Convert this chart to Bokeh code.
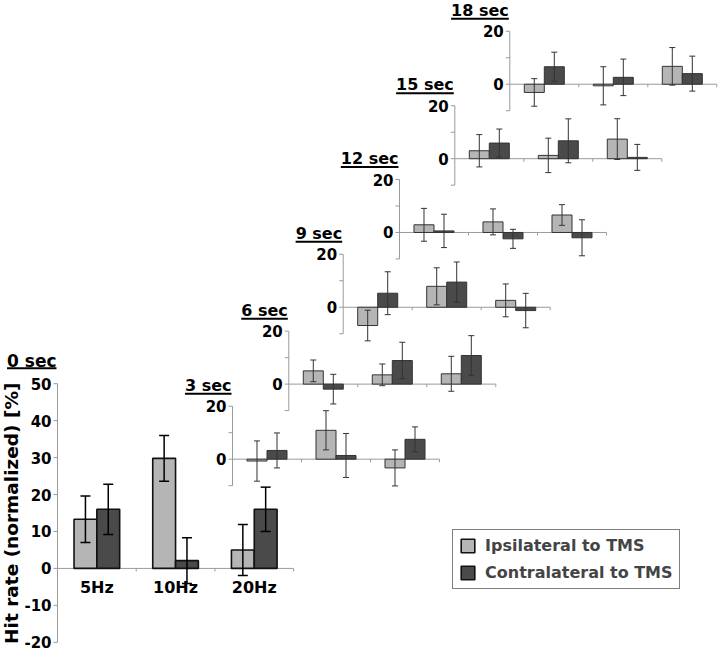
import math
from bokeh.plotting import figure
from bokeh.models import Range1d, Legend, LegendItem
from bokeh.core.properties import value
from bokeh.embed import file_html
from bokeh.resources import INLINE

# ---------------- data ----------------
categories = ["5Hz", "10Hz", "20Hz"]
series_names = ["Ipsilateral to TMS", "Contralateral to TMS"]
y_label = "Hit rate  (normalized) [%]"

main_title = "0 sec"
main_ticks = [50, 40, 30, 20, 10, 0, -10, -20]
main_tick_labels = ["50", "40", "30", "20", "10", "0", "-10", "-20"]
main_ipsi = [13.3, 29.8, 5.0]
main_ipsi_err = [6.3, 6.2, 6.9]
main_contra = [16.0, 2.1, 16.0]
main_contra_err = [6.8, 6.2, 6.0]

inset_titles = ["3 sec", "6 sec", "9 sec", "12 sec", "15 sec", "18 sec"]
inset_ticks = [20, 10, 0, -10]
inset_tick_labels = ["20", "", "0", ""]

ipsi_3s = [-0.7, 10.9, -3.3]
ipsi_3s_err = [7.6, 7.4, 6.8]
contra_3s = [3.3, 1.4, 7.5]
contra_3s_err = [6.6, 8.3, 4.7]

ipsi_6s = [5.0, 3.5, 3.9]
ipsi_6s_err = [4.1, 4.1, 6.6]
contra_6s = [-1.9, 8.9, 10.8]
contra_6s_err = [5.6, 6.9, 7.5]

ipsi_9s = [-6.9, 7.9, 2.6]
ipsi_9s_err = [5.8, 7.0, 6.2]
contra_9s = [5.3, 9.5, -1.25]
contra_9s_err = [8.1, 7.6, 6.5]

ipsi_12s = [2.9, 4.0, 6.6]
ipsi_12s_err = [6.2, 4.9, 3.9]
contra_12s = [0.6, -2.4, -2.0]
contra_12s_err = [6.3, 3.6, 6.8]

ipsi_15s = [3.0, 1.25, 7.4]
ipsi_15s_err = [6.1, 6.5, 7.7]
contra_15s = [5.9, 6.75, 0.5]
contra_15s_err = [5.3, 8.3, 4.9]

ipsi_18s = [-3.1, -0.6, 6.75]
ipsi_18s_err = [5.2, 7.2, 7.1]
contra_18s = [6.6, 2.6, 4.0]
contra_18s_err = [5.5, 6.9, 6.6]

# ---------------- layout / style ----------------
W, H = 720, 652
SY, OY = 0.993, 2.6        # slight vertical fit so edge texts are not clipped
FONT = value("DejaVu Sans")
LIGHT, DARK = "#b5b5b5", "#4a4a4a"
AXIS = "#9a9a9a"

main_layout = (57, 569.3, 3.72, 78.7)          # axis x, zero y (px), px/unit, px/category
inset_axis_x = [232, 288.3, 342.7, 399, 454.3, 509.3]
inset_zero_y = [459.3, 383.7, 306.3, 231, 156.7, 81.7]
inset_scale = 2.667
inset_cat_w = 69.0


def make_ranges(ax, y0, s, cw):
    cy = OY + y0 * SY
    sc = s * SY
    return Range1d(-ax / cw, (W - ax) / cw), Range1d((cy - H) / sc, cy / sc), sc


mx, my, msc = make_ranges(*main_layout)
p = figure(width=W, height=H, x_range=mx, y_range=my, output_backend="svg",
           toolbar_location=None, min_border=0, x_axis_location=None,
           y_axis_location=None, title=None, outline_line_color=None,
           background_fill_color="white", border_fill_color="white")
p.grid.visible = False


def title_width(t, fs):
    em = {"0": .696, "1": .696, "2": .696, "3": .696, "4": .696, "5": .696, "6": .696,
          "7": .696, "8": .696, "9": .696, " ": .348, "s": .595, "e": .678, "c": .593}
    return sum(em.get(ch, .65) for ch in t) * fs


def draw_panel(kw, sc, cw, ipsi, ipsi_e, contra, contra_e, ticks, labels, title,
               title_fs, tick_fs, title_gap, ul_gap, bar_lw, err_lw, err_color, cap_px, bar_line):
    n = len(categories)
    bw = 0.29
    xi = [i + 0.5 - bw / 2 for i in range(n)]
    xc = [i + 0.5 + bw / 2 for i in range(n)]
    # axes
    p.segment(x0=[0], y0=[min(ticks)], x1=[0], y1=[max(ticks)], line_color=AXIS, line_width=1, **kw)
    tl = 4 / cw
    p.segment(x0=[-tl] * len(ticks), y0=ticks, x1=[0] * len(ticks), y1=ticks,
              line_color=AXIS, line_width=1, **kw)
    p.segment(x0=[0], y0=[0], x1=[n], y1=[0], line_color=AXIS, line_width=1, **kw)
    p.segment(x0=list(range(1, n + 1)), y0=[0] * n, x1=list(range(1, n + 1)),
              y1=[-3 / sc] * n, line_color=AXIS, line_width=1, **kw)
    # bars
    r_i = p.vbar(x=xi, top=ipsi, bottom=0, width=bw, fill_color=LIGHT,
                 line_color=bar_line, line_width=bar_lw, **kw)
    r_c = p.vbar(x=xc, top=contra, bottom=0, width=bw, fill_color=DARK,
                 line_color=bar_line, line_width=bar_lw, **kw)
    # error bars
    cu = cap_px / cw
    for xs, v, e in ((xi, ipsi, ipsi_e), (xc, contra, contra_e)):
        lo = [a - b for a, b in zip(v, e)]
        hi = [a + b for a, b in zip(v, e)]
        p.segment(x0=xs, y0=lo, x1=xs, y1=hi, line_color=err_color, line_width=err_lw, **kw)
        p.segment(x0=[x - cu for x in xs] * 2, y0=lo + hi, x1=[x + cu for x in xs] * 2,
                  y1=lo + hi, line_color=err_color, line_width=err_lw, **kw)
    # tick labels
    p.text(x=[0] * len(ticks), y=ticks, text=labels, x_offset=-6, text_align="right",
           text_baseline="middle", text_font=FONT, text_font_style="bold",
           text_font_size=tick_fs, text_color="black", **kw)
    # title with underline
    tc = max(ticks) + title_gap / sc
    p.text(x=[-1 / cw], y=[tc], text=[title], text_align="right", text_baseline="middle",
           text_font=FONT, text_font_style="bold", text_font_size=f"{title_fs}px",
           text_color="black", **kw)
    w = title_width(title, title_fs)
    uy = tc - ul_gap / sc
    p.segment(x0=[-(w + 1) / cw], y0=[uy], x1=[-1 / cw], y1=[uy],
              line_color="black", line_width=2, **kw)
    return r_i, r_c


# main panel (0 sec)
r_ipsi, r_contra = draw_panel({}, msc, main_layout[3], main_ipsi, main_ipsi_err, main_contra,
                              main_contra_err, main_ticks, main_tick_labels, main_title,
                              17, "15px", 23, 7.5, 1.6, 1.5, "black", 5, "#111111")
mcw = main_layout[3]
p.text(x=[i + 0.5 for i in range(len(categories))], y=[-19 / msc] * len(categories),
       text=categories, text_align="center", text_baseline="middle", text_font=FONT,
       text_font_style="bold", text_font_size="16px", text_color="black")
p.text(x=[(11 - main_layout[0]) / mcw], y=[(main_layout[1] - 510.5) / main_layout[2]],
       text=[y_label], angle=math.pi / 2, text_align="center", text_baseline="middle",
       text_font=FONT, text_font_style="bold", text_font_size="18.5px", text_color="black")

inset_data = [
    (ipsi_3s, ipsi_3s_err, contra_3s, contra_3s_err),
    (ipsi_6s, ipsi_6s_err, contra_6s, contra_6s_err),
    (ipsi_9s, ipsi_9s_err, contra_9s, contra_9s_err),
    (ipsi_12s, ipsi_12s_err, contra_12s, contra_12s_err),
    (ipsi_15s, ipsi_15s_err, contra_15s, contra_15s_err),
    (ipsi_18s, ipsi_18s_err, contra_18s, contra_18s_err),
]
for k, (title, d) in enumerate(zip(inset_titles, inset_data)):
    name = f"t{k}"
    xr, yr, sc = make_ranges(inset_axis_x[k], inset_zero_y[k], inset_scale, inset_cat_w)
    p.extra_x_ranges[name] = xr
    p.extra_y_ranges[name] = yr
    kw = dict(x_range_name=name, y_range_name=name)
    draw_panel(kw, sc, inset_cat_w, d[0], d[1], d[2], d[3], inset_ticks, inset_tick_labels,
               title, 16, "15px", 21, 8.5, 1, 1, "#333333", 3, "#333333")

legend = Legend(items=[LegendItem(label=series_names[0], renderers=[r_ipsi]),
                       LegendItem(label=series_names[1], renderers=[r_contra])],
                location=(452, H - (OY + 591 * SY)), border_line_color="black",
                border_line_width=1, background_fill_color="white", background_fill_alpha=1,
                label_text_font="DejaVu Sans", label_text_font_style="bold",
                label_text_font_size="16px", glyph_width=17, glyph_height=17,
                label_height=17, padding=6, spacing=8, label_standoff=9, margin=0)
p.add_layout(legend)

open("out.html", "w").write(file_html(p, INLINE))
